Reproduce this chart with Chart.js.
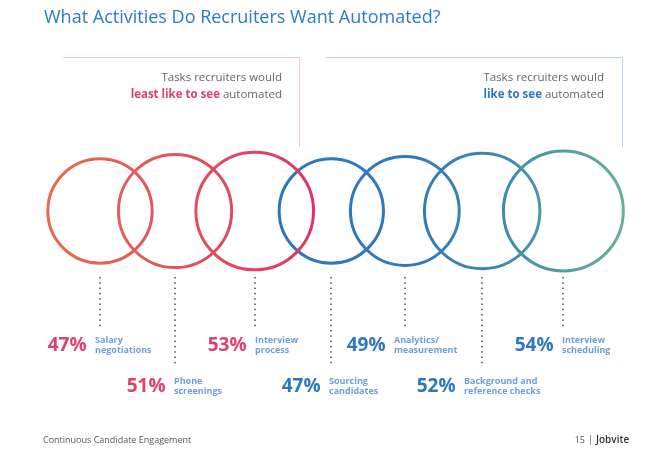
<!DOCTYPE html>
<html>
<head>
<meta charset="utf-8">
<script src="https://cdn.jsdelivr.net/npm/chart.js@4/dist/chart.umd.min.js"></script>
<style>
  html, body { margin: 0; padding: 0; background: #fff; }
  #wrap { width: 671px; height: 458px; }
</style>
</head>
<body>
<div id="wrap"><canvas id="chart" width="671" height="458"></canvas></div>
<script>
// data
const leastTasks = [['Salary', 'negotiations'], ['Phone', 'screenings'], ['Interview', 'process']];
const leastValues = [47, 51, 53];
const likeTasks = [['Sourcing', 'candidates'], ['Analytics/', 'measurement'], ['Background and', 'reference checks'], ['Interview', 'scheduling']];
const likeValues = [47, 49, 52, 54];

// layout
const W = 671, H = 458;
const R_PER_PCT = 1.11;      // ring radius per percentage point
const OVERLAP = 0.69;        // share of summed radii between neighbour centres
const FIRST_X = 100;
const RING_Y = 211;
const TEXT_SHIFT = [-5, -1, 0, -2, -11, -18, -1];
const FONT = '"Open Sans", "DejaVu Sans", sans-serif';

const allValues = leastValues.concat(likeValues);
const allTasks = leastTasks.concat(likeTasks);
const centers = [];
allValues.forEach((v, i) => {
  if (i === 0) centers.push(FIRST_X);
  else centers.push(centers[i - 1] + OVERLAP * (allValues[i - 1] + v) * R_PER_PCT);
});

const leastStops = [[0, '#ea6a4d'], [0.4, '#e4585a'], [1, '#df3468']];
const likeStops = [[0, '#2c76c0'], [0.4, '#2f7abe'], [0.62, '#3c87b1'], [0.75, '#4b95a7'], [1, '#64b299']];

// horizontal gradient across each group of rings, set once scales are laid out
const ringGradients = {
  id: 'ringGradients',
  beforeDatasetsDraw(chart) {
    const stopsList = [leastStops, likeStops];
    chart.data.datasets.forEach((ds, d) => {
      const pts = chart.getDatasetMeta(d).data;
      if (!pts.length) return;
      const first = pts[0], last = pts[pts.length - 1];
      const x0 = first.x - first.options.radius;
      const x1 = last.x + last.options.radius;
      if (!isFinite(x0) || !isFinite(x1)) return;
      const g = chart.ctx.createLinearGradient(x0, 0, x1, 0);
      stopsList[d].forEach(s => g.addColorStop(s[0], s[1]));
      pts.forEach(p => { p.options.borderColor = g; });
    });
  }
};

const pageDecor = {
  id: 'pageDecor',
  afterDatasetsDraw(chart) {
    const ctx = chart.ctx;
    const xs = chart.scales.x;
    ctx.save();

    // title
    ctx.fillStyle = '#2a7bc9';
    ctx.font = '18px ' + FONT;
    ctx.textBaseline = 'alphabetic';
    ctx.textAlign = 'left';
    ctx.fillText('What Activities Do Recruiters Want Automated?', 44, 23);

    // header boxes
    ctx.lineWidth = 1;
    ctx.strokeStyle = '#f6c3cf';
    ctx.beginPath();
    ctx.moveTo(63, 57.5); ctx.lineTo(299.5, 57.5); ctx.lineTo(299.5, 147);
    ctx.stroke();
    ctx.strokeStyle = '#bcd3eb';
    ctx.beginPath();
    ctx.moveTo(326, 57.5); ctx.lineTo(622.5, 57.5); ctx.lineTo(622.5, 147);
    ctx.stroke();

    const header = (right, boldText, boldColor) => {
      ctx.textAlign = 'right';
      ctx.textBaseline = 'middle';
      ctx.font = '11.5px ' + FONT;
      ctx.fillStyle = '#666666';
      ctx.fillText('Tasks recruiters would', right, 78);
      ctx.fillText(' automated', right, 95);
      const w = ctx.measureText(' automated').width;
      ctx.font = 'bold 11.5px ' + FONT;
      ctx.fillStyle = boldColor;
      ctx.fillText(boldText, right - w, 95);
    };
    header(282, 'least like to see', '#e0406a');
    header(604, 'like to see', '#2e78c0');

    // dotted leaders and labels
    const yTop = 277;
    allValues.forEach((v, i) => {
      const cx = Math.round(xs.getPixelForValue(centers[i]));
      const low = i % 2 === 1;
      const yEnd = low ? 366 : 327;
      ctx.fillStyle = '#4a4a4a';
      for (let y = yTop; y <= yEnd; y += 5.3) ctx.fillRect(cx - 0.75, y, 1.5, 1.5);

      const pc = low ? 387 : 346;
      const tx = cx + TEXT_SHIFT[i];
      ctx.textBaseline = 'middle';
      ctx.textAlign = 'right';
      ctx.font = 'bold 19px ' + FONT;
      ctx.fillStyle = i < leastValues.length ? '#e0406a' : '#2e78c0';
      ctx.fillText(v + '%', tx - 8.5, pc);
      ctx.textAlign = 'left';
      ctx.font = 'bold 9px ' + FONT;
      ctx.fillStyle = '#6f9dd6';
      ctx.fillText(allTasks[i][0], tx, pc - 6);
      ctx.fillText(allTasks[i][1], tx, pc + 4.5);
    });

    // footer
    ctx.textBaseline = 'middle';
    ctx.textAlign = 'left';
    ctx.font = '9px ' + FONT;
    ctx.fillStyle = '#555555';
    ctx.fillText('Continuous Candidate Engagement', 43, 440);
    ctx.textAlign = 'right';
    ctx.fillText('15', 585, 440);
    ctx.fillStyle = '#999999';
    ctx.fillRect(590, 435, 1, 10);
    ctx.textAlign = 'left';
    ctx.font = '600 10px ' + FONT;
    ctx.fillStyle = '#333333';
    ctx.fillText('Jobvite', 596, 440);

    ctx.restore();
  }
};

const chart = new Chart(document.getElementById('chart'), {
  type: 'bubble',
  data: {
    datasets: [
      {
        label: 'Least like to see automated',
        data: leastValues.map((v, i) => ({ x: centers[i], y: RING_Y, r: v * R_PER_PCT })),
        backgroundColor: 'rgba(0,0,0,0)',
        borderColor: '#e4585a',
        borderWidth: 3
      },
      {
        label: 'Like to see automated',
        data: likeValues.map((v, i) => ({ x: centers[i + leastValues.length], y: RING_Y, r: v * R_PER_PCT })),
        backgroundColor: 'rgba(0,0,0,0)',
        borderColor: '#2f7abe',
        borderWidth: 3
      }
    ]
  },
  options: {
    responsive: false,
    animation: false,
    events: [],
    layout: { padding: 0, autoPadding: false },
    scales: {
      x: { type: 'linear', min: 0, max: W, display: false },
      y: { type: 'linear', min: 0, max: H, reverse: true, display: false }
    },
    plugins: {
      legend: { display: false },
      tooltip: { enabled: false }
    }
  },
  plugins: [ringGradients, pageDecor]
});
</script>
</body>
</html>
